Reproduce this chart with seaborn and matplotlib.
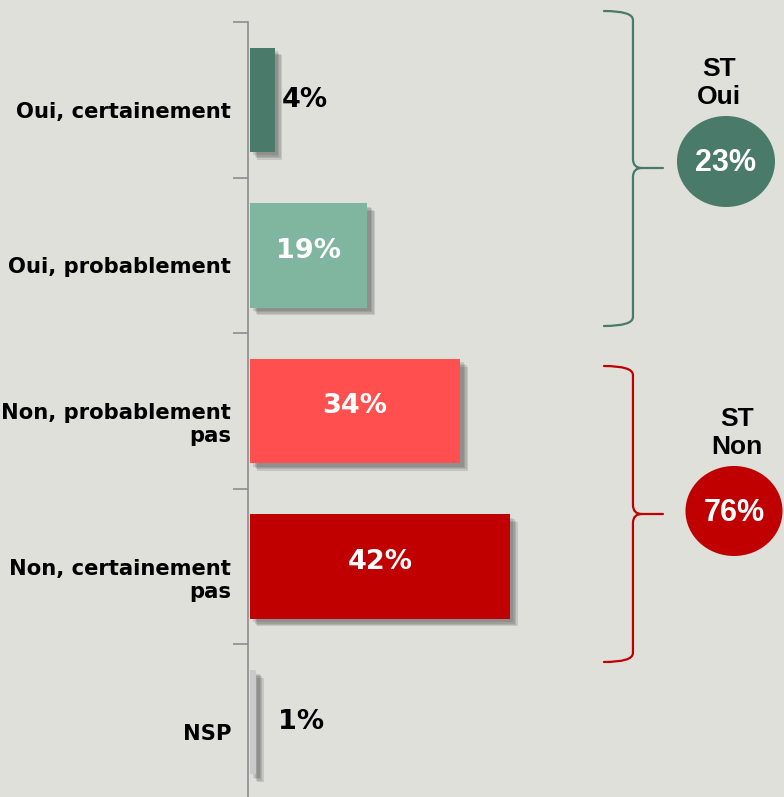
import matplotlib
matplotlib.use("Agg")
import matplotlib.pyplot as plt
import matplotlib.patheffects as pe
import matplotlib.transforms as mtransforms
from matplotlib.patches import Ellipse, PathPatch
from matplotlib.path import Path
import seaborn as sns
import pandas as pd

# ---- data ----
categories = ["Oui, certainement", "Oui, probablement", "Non, probablement\npas",
              "Non, certainement\npas", "NSP"]
values = [4, 19, 34, 42, 1]
value_labels = ["4%", "19%", "34%", "42%", "1%"]
bar_colors = ["#4A7A6A", "#80B5A0", "#FF4F4F", "#C00000", "#CACACA"]
label_inside = [False, True, True, True, False]
group_names = ["ST\nOui", "ST\nNon"]
group_values = ["23%", "76%"]
group_colors = ["#4A7A6A", "#C00000"]

BG = "#DFE0DA"
df = pd.DataFrame({"cat": categories, "val": values})

sns.set_style("white")
plt.rcParams["font.family"] = ["DejaVu Sans"]

W, H = 784, 797
fig = plt.figure(figsize=(W / 100, H / 100), dpi=100, facecolor=BG)
ax_left = 248 / W
ax_top_px, ax_bot_px = 22, 800
ax = fig.add_axes([ax_left, (H - ax_bot_px) / H, 1 - ax_left, (ax_bot_px - ax_top_px) / H])
ax.set_facecolor(BG)

sns.barplot(data=df, x="val", y="cat", hue="cat", palette=bar_colors, legend=False,
            width=0.67, ax=ax, saturation=1, orient="h")

shadow = [pe.SimplePatchShadow(offset=(o, -o), shadow_rgbFace="#4A4A4A", alpha=0.17)
          for o in (5.5, 4.5, 3.5, 2.5)]
for p in ax.patches:
    p.set_edgecolor("none")
    p.set_path_effects(shadow + [pe.Normal()])

px_per_unit = 6.19
ax.set_xlim(-0.3, (W - 250) / px_per_unit)
ax.set_ylim(4.5, -0.5)

# value labels
for i, (v, lab, inside) in enumerate(zip(values, value_labels, label_inside)):
    if inside:
        ax.text(v / 2, i - 0.03, lab, ha="center", va="center", color="white",
                fontsize=19.5, fontweight="bold")
    else:
        ax.text(max(v + 1.2, 4.5), i, lab, ha="left", va="center", color="black",
                fontsize=19.5, fontweight="bold")

# axes styling
for s in ["top", "right", "bottom"]:
    ax.spines[s].set_visible(False)
ax.spines["left"].set_color("#8C8C8C")
ax.spines["left"].set_linewidth(1.2)
ax.set_xticks([])
ax.set_xlabel("")
ax.set_ylabel("")
ax.set_yticks(range(len(categories)))
ax.set_yticklabels(categories, fontsize=15.2, fontweight="bold", color="black",
                   multialignment="right")
ax.tick_params(axis="y", which="major", length=0, pad=12, left=False)
ax.set_yticks([i - 0.5 for i in range(len(categories) + 1)], minor=True)
ax.tick_params(axis="y", which="minor", left=True, length=11, width=1.2,
               color="#8C8C8C", direction="out")
shift = mtransforms.ScaledTranslation(0, -10 / 100, fig.dpi_scale_trans)
for lbl in ax.get_yticklabels():
    lbl.set_transform(lbl.get_transform() + shift)


def to_data(px, py):
    return (px - 250) / px_per_unit, (py - ax_top_px) / 155.6 - 0.5


def brace(y0_px, ymid_px, y1_px, color):
    x_end, _ = to_data(604, 0)
    x_line, _ = to_data(633, 0)
    x_tip, _ = to_data(663, 0)
    _, y0 = to_data(0, y0_px)
    _, ym = to_data(0, ymid_px)
    _, y1 = to_data(0, y1_px)
    dy = 9 / 155.6
    dx = 9 / px_per_unit
    verts = [(x_end, y0), (x_line, y0), (x_line, y0 + dy),
             (x_line, ym - dy),
             (x_line, ym), (x_line + dx, ym),
             (x_tip, ym),
             (x_line + dx, ym), (x_line, ym), (x_line, ym + dy),
             (x_line, y1 - dy),
             (x_line, y1), (x_end, y1)]
    codes = [Path.MOVETO, Path.CURVE3, Path.CURVE3,
             Path.LINETO,
             Path.CURVE3, Path.CURVE3,
             Path.LINETO,
             Path.MOVETO, Path.CURVE3, Path.CURVE3,
             Path.LINETO,
             Path.CURVE3, Path.CURVE3]
    ax.add_patch(PathPatch(Path(verts, codes), facecolor="none", edgecolor=color,
                           lw=1.6, clip_on=False, capstyle="round"))


brace(11, 168, 326, group_colors[0])
brace(366, 514, 662, group_colors[1])

# group circles
circ_specs = [((726, 161.5), 98, 91, (719, 83)), ((734, 511), 97, 90, (737, 433))]
for (cxy, wpx, hpx, txy), name, gv, col in zip(circ_specs, group_names, group_values, group_colors):
    cx, cy = to_data(*cxy)
    ax.add_patch(Ellipse((cx, cy), wpx / px_per_unit, hpx / 155.6, facecolor=col,
                         edgecolor="none", clip_on=False))
    ax.text(cx, cy + 0.01, gv, ha="center", va="center", color="white", fontsize=22,
            fontweight="bold", family="Liberation Sans")
    tx, ty = to_data(*txy)
    ax.text(tx, ty, name, ha="center", va="center", color="black", fontsize=19,
            fontweight="bold", family="Liberation Sans", linespacing=1.25)

fig.savefig("out.png", dpi=100, facecolor=BG)
